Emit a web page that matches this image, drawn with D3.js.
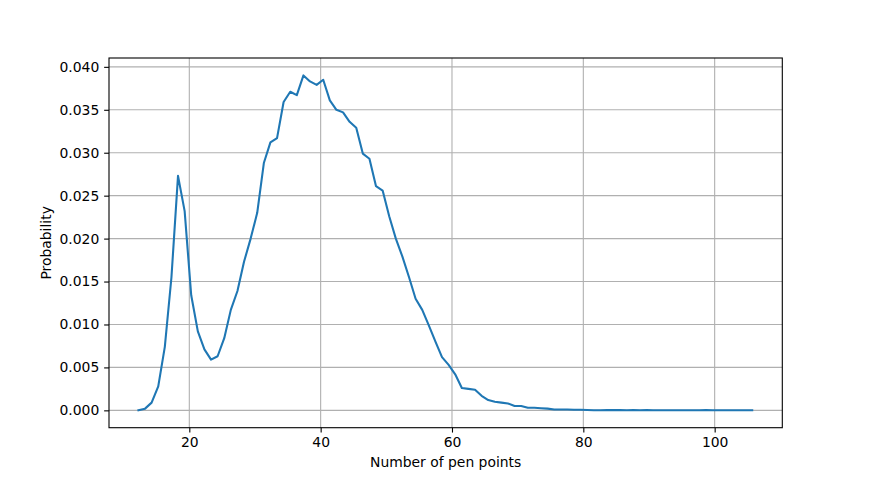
<!DOCTYPE html>
<html>
<head>
<meta charset="utf-8">
<script src="https://cdn.jsdelivr.net/npm/d3@7"></script>
<style>
  html, body { margin: 0; padding: 0; background: #fff; }
  svg { display: block; font-family: "DejaVu Sans", sans-serif; }
</style>
</head>
<body>
<svg id="chart" width="869" height="480"></svg>
<script>
// ---- data ----
const penPoints = [
  12.25, 13.26, 14.26, 15.27, 16.27, 17.28, 18.28, 19.29, 20.29, 21.30,
  22.30, 23.31, 24.31, 25.32, 26.32, 27.33, 28.33, 29.34, 30.34, 31.35,
  32.35, 33.36, 34.36, 35.37, 36.37, 37.38, 38.38, 39.39, 40.39, 41.40,
  42.40, 43.41, 44.41, 45.42, 46.42, 47.43, 48.43, 49.44, 50.44, 51.45,
  52.45, 53.46, 54.46, 55.47, 56.47, 57.48, 58.48, 59.49, 60.49, 61.50,
  62.50, 63.51, 64.51, 65.52, 66.52, 67.53, 68.53, 69.54, 70.54, 71.55,
  72.55, 73.56, 74.56, 75.57, 76.57, 77.58, 78.58, 79.59, 80.59, 81.60,
  82.60, 83.61, 84.61, 85.62, 86.62, 87.63, 88.63, 89.64, 90.64, 91.65,
  92.65, 93.66, 94.66, 95.67, 96.67, 97.68, 98.68, 99.69, 100.69, 101.70,
  102.70, 103.71, 104.71, 105.72
];
const probability = [
  0.0000, 0.0002, 0.0009, 0.0028, 0.0074, 0.0155, 0.0273, 0.0232, 0.0134, 0.0092,
  0.0071, 0.0059, 0.0063, 0.0084, 0.0117, 0.0139, 0.0173, 0.0200, 0.0230, 0.0288,
  0.0312, 0.0317, 0.0359, 0.0371, 0.0367, 0.0390, 0.0383, 0.0379, 0.0385, 0.0361,
  0.0350, 0.0347, 0.0336, 0.0329, 0.0299, 0.0293, 0.0261, 0.0256, 0.0226, 0.0200,
  0.0179, 0.0155, 0.0130, 0.0117, 0.0099, 0.0080, 0.0062, 0.0053, 0.0042, 0.0026,
  0.0025, 0.0024, 0.0017, 0.0012, 0.0010, 0.0009, 0.0008, 0.0005, 0.0005, 0.0003,
  0.0003, 0.00025, 0.0002, 0.0001, 0.0001, 0.0001, 0.00008, 0.00008, 0.00005, 0.00002,
  0.00002, 0.00003, 0.00004, 0.00003, 0.00002, 0.00003, 0.00002, 0.00003, 0.00002, 0.00002,
  0.00001, 0.00002, 0.00001, 0.00002, 0.00001, 0.00001, 0.00003, 0.00002, 0.00001, 0.00001,
  0.00001, 0.00001, 0.00001, 0.00001
];
const xTicks = [20, 40, 60, 80, 100];
const yTicks = [0, 0.005, 0.010, 0.015, 0.020, 0.025, 0.030, 0.035, 0.040];
const xLabel = "Number of pen points";
const yLabel = "Probability";

// ---- layout ----
const svg = d3.select("#chart");
const plot = { left: 109, right: 782.3, top: 58, bottom: 427.7 };

const x = d3.scaleLinear().domain([7.77, 110.3]).range([plot.left, plot.right]);
const y = d3.scaleLinear().domain([-0.00202, 0.04103]).range([plot.bottom, plot.top]);

const gridColor = "#b0b0b0";

// grid
const grid = svg.append("g");
grid.selectAll("line.gx").data(xTicks).join("line")
  .attr("x1", d => x(d)).attr("x2", d => x(d))
  .attr("y1", plot.top).attr("y2", plot.bottom)
  .attr("stroke", gridColor).attr("stroke-width", 1.1);
grid.selectAll("line.gy").data(yTicks).join("line")
  .attr("y1", d => y(d)).attr("y2", d => y(d))
  .attr("x1", plot.left).attr("x2", plot.right)
  .attr("stroke", gridColor).attr("stroke-width", 1.1);

// line
const data = penPoints.map((v, i) => ({ x: v, y: probability[i] }));
svg.append("path")
  .datum(data)
  .attr("fill", "none")
  .attr("stroke", "#1f77b4")
  .attr("stroke-width", 2.08)
  .attr("stroke-linejoin", "round")
  .attr("stroke-linecap", "square")
  .attr("d", d3.line().x(d => x(d.x)).y(d => y(d.y)));

// axes
const fmt = d3.format(".3f");
const xAxis = svg.append("g")
  .attr("transform", `translate(0,${plot.bottom})`)
  .call(d3.axisBottom(x).tickValues(xTicks).tickSize(4.86).tickPadding(4.2).tickFormat(d3.format("d")));
const yAxis = svg.append("g")
  .attr("transform", `translate(${plot.left},0)`)
  .call(d3.axisLeft(y).tickValues(yTicks).tickSize(4.86).tickPadding(4.86).tickFormat(fmt));

[xAxis, yAxis].forEach(g => {
  g.select(".domain").remove();
  g.selectAll(".tick line").attr("stroke", "#000").attr("stroke-width", 1.1);
  g.selectAll(".tick text").attr("fill", "#000")
    .style("font-family", "'DejaVu Sans', sans-serif").style("font-size", "13.9px");
});

// spines
svg.append("rect")
  .attr("x", plot.left).attr("y", plot.top)
  .attr("width", plot.right - plot.left).attr("height", plot.bottom - plot.top)
  .attr("fill", "none").attr("stroke", "#000").attr("stroke-width", 1.1);

// labels
svg.append("text")
  .attr("x", (plot.left + plot.right) / 2).attr("y", 467)
  .attr("text-anchor", "middle")
  .style("font-size", "13.9px").attr("fill", "#000")
  .text(xLabel);
svg.append("text")
  .attr("transform", `translate(51,${(plot.top + plot.bottom) / 2}) rotate(-90)`)
  .attr("text-anchor", "middle")
  .style("font-size", "13.9px").attr("fill", "#000")
  .text(yLabel);
</script>
</body>
</html>
